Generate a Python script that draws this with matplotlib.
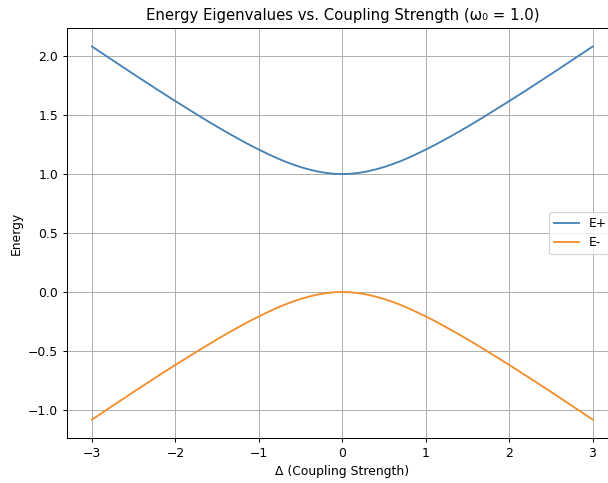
import matplotlib
matplotlib.use('Agg')
import matplotlib.pyplot as plt

# values, step 0.1 in Δ
delta = [-3.0, -2.9, -2.8, -2.7, -2.6, -2.5, -2.4, -2.3, -2.2, -2.1,
         -2.0, -1.9, -1.8, -1.7, -1.6, -1.5, -1.4, -1.3, -1.2, -1.1,
         -1.0, -0.9, -0.8, -0.7, -0.6, -0.5, -0.4, -0.3, -0.2, -0.1,
         0.0, 0.1, 0.2, 0.3, 0.4, 0.5, 0.6, 0.7, 0.8, 0.9,
         1.0, 1.1, 1.2, 1.3, 1.4, 1.5, 1.6, 1.7, 1.8, 1.9,
         2.0, 2.1, 2.2, 2.3, 2.4, 2.5, 2.6, 2.7, 2.8, 2.9, 3.0]
e_plus = [2.081, 2.034, 1.987, 1.940, 1.893, 1.846, 1.800, 1.754, 1.708, 1.663,
          1.618, 1.574, 1.530, 1.486, 1.443, 1.401, 1.360, 1.320, 1.281, 1.243,
          1.207, 1.173, 1.140, 1.110, 1.083, 1.059, 1.039, 1.022, 1.010, 1.002,
          1.000, 1.002, 1.010, 1.022, 1.039, 1.059, 1.083, 1.110, 1.140, 1.173,
          1.207, 1.243, 1.281, 1.320, 1.360, 1.401, 1.443, 1.486, 1.530, 1.574,
          1.618, 1.663, 1.708, 1.754, 1.800, 1.846, 1.893, 1.940, 1.987, 2.034, 2.081]
e_minus = [-1.081, -1.034, -0.987, -0.940, -0.893, -0.846, -0.800, -0.754, -0.708, -0.663,
           -0.618, -0.574, -0.530, -0.486, -0.443, -0.401, -0.360, -0.320, -0.281, -0.243,
           -0.207, -0.173, -0.140, -0.110, -0.083, -0.059, -0.039, -0.022, -0.010, -0.002,
           0.000, -0.002, -0.010, -0.022, -0.039, -0.059, -0.083, -0.110, -0.140, -0.173,
           -0.207, -0.243, -0.281, -0.320, -0.360, -0.401, -0.443, -0.486, -0.530, -0.574,
           -0.618, -0.663, -0.708, -0.754, -0.800, -0.846, -0.893, -0.940, -0.987, -1.034, -1.081]

# reference looks rendered at ~89 dpi
dpi = 89
fig = plt.figure(figsize=(608 / dpi, 483 / dpi), dpi=dpi)
# axes run past the right edge, as in the reference
ax = fig.add_axes([0.110, 0.0927, 0.906, 0.8497])

ax.plot(delta, e_plus, color='#4682B4', label='E+')
ax.plot(delta, e_minus, color='#F28E2B', label='E-')

ax.set_title('Energy Eigenvalues vs. Coupling Strength (ω₀ = 1.0)')
ax.set_xlabel('Δ (Coupling Strength)')
ax.set_ylabel('Energy')
ax.legend(loc='center right')
ax.grid(True)

fig.savefig('out.png', dpi=dpi)
